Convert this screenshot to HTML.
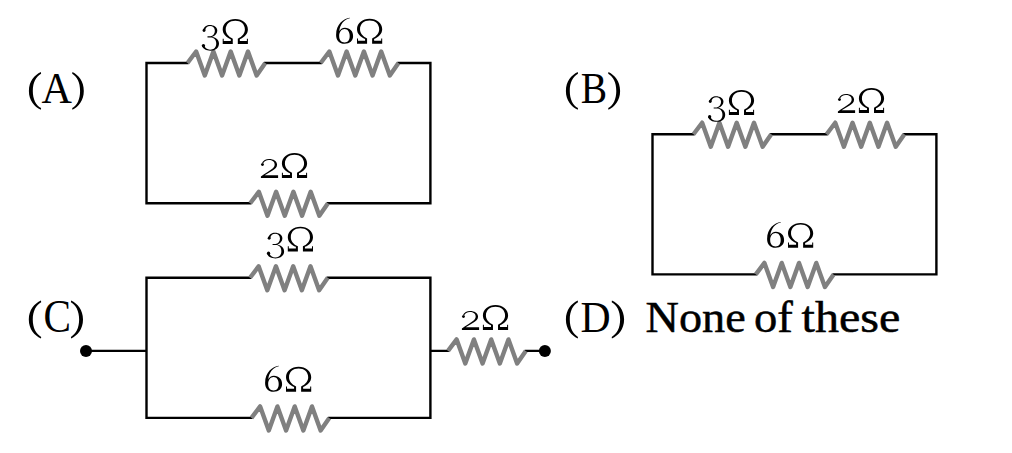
<!DOCTYPE html><html><head><meta charset="utf-8"><style>html,body{margin:0;padding:0;background:#fff;overflow:hidden}svg{display:block}text{font-family:"Liberation Serif",serif;fill:#000}.o{stroke:#000;stroke-width:0.5px}</style></head><body>
<svg width="1012" height="453" viewBox="0 0 1012 453">
<defs><path id="om" d="M0,100 L0,79 L4,79 L4,88 L32,88 L32,81 C14,73 0,60 0,42 C0,18 22,0 50,0 C78,0 100,18 100,42 C100,60 86,73 68,81 L68,88 L96,88 L96,79 L100,79 L100,100 L60,100 L60,79 C78,70 88,58 88,42 C88,20 72,6.6 50,6.6 C28,6.6 12,20 12,42 C12,58 22,70 40,79 L40,100 Z"/><g id="g2"><path fill-rule="evenodd" d="M5,24 C12,7 30,0 48,0 C72,0 94,11 94,30 C94,45 83,53 68,61 L22,86 L100,86 L100,100 L0,100 L0,92 C24,76 52,62 68,50 C77,43 80,36 80,29 C80,14 66,5.5 47,5.5 C30,5.5 18,12 13,24 Z"/><path fill-rule="nonzero" d="M0.5,30 A8.5,7.5 0 1 0 17.5,30 A8.5,7.5 0 1 0 0.5,30 Z"/></g><g id="g3"><path fill-rule="evenodd" d="M7,21 C12,6 30,0 46,0 C70,0 90,8 90,22 C90,34 76,42 60,45.5 C86,49 100,60 100,72 C100,89 80,100 50,100 C26,100 4,93 1,80 L15,79 C18,91 32,96 48,96 C72,96 84,86 84,72 C84,58 72,48 52,48 L33,48 L33,44 L50,44 C66,42 76,33 76,22 C76,11 64,4 48,4 C34,4 22,9 19,21 Z"/><path fill-rule="nonzero" d="M4.5,21 A8.5,5.8 0 1 0 21.5,21 A8.5,5.8 0 1 0 4.5,21 Z"/><path fill-rule="nonzero" d="M0,80 A9.5,6.5 0 1 0 19,80 A9.5,6.5 0 1 0 0,80 Z"/></g><g id="g6"><path fill-rule="evenodd" d="M80,0 C44,4 0,24 0,66 C0,88 20,100 50,100 C80,100 100,88 100,70 C100,52 82,38 52,38 C36,38 24,44 19,52 C22,26 48,6 81,2 Z M50,43 C68,43 80,54 80,70 C80,86 70,95 50,95 C30,95 18,86 18,70 C18,54 32,43 50,43 Z"/></g><g id="glp"><path fill-rule="nonzero" d="M98,0 C45,8 0,25 0,50 C0,75 45,92 98,100 L100,95.5 C58,88 32,72 32,50 C32,28 58,12 100,4.5 Z"/></g><g id="grp"><path fill-rule="nonzero" d="M2,0 C55,8 100,25 100,50 C100,75 55,92 2,100 L0,95.5 C42,88 68,72 68,50 C68,28 42,12 0,4.5 Z"/></g></defs>
<path d="M146.50,63.00 H187.50 M265.26,63.00 H320.70 M398.46,63.00 H430.40 M146.50,203.30 H250.20 M327.96,203.30 H430.40 M652.50,134.20 H693.50 M771.26,134.20 H826.60 M904.36,134.20 H936.40 M652.50,274.40 H755.80 M833.56,274.40 H936.40 M146.50,277.80 H250.00 M327.76,277.80 H430.40 M146.50,417.90 H251.50 M329.26,417.90 H430.40 M146.50,63.00 V203.30 M430.40,63.00 V203.30 M652.50,134.20 V274.40 M936.40,134.20 V274.40 M146.50,277.80 V417.90 M430.40,277.80 V417.90 M86,350.9 H146.5 M430.4,350.9 H448.0 M525.76,350.9 H544.9" fill="none" stroke="#000" stroke-width="2.4" stroke-linecap="square" stroke-linejoin="miter"/>
<path d="M187.50,63.00 L196.14,51.50 L204.78,75.50 L213.42,51.50 L222.06,75.50 L230.70,51.50 L239.34,75.50 L247.98,51.50 L256.62,75.50 L265.26,63.00 M320.70,63.00 L329.34,51.50 L337.98,75.50 L346.62,51.50 L355.26,75.50 L363.90,51.50 L372.54,75.50 L381.18,51.50 L389.82,75.50 L398.46,63.00 M250.20,203.30 L258.84,191.80 L267.48,215.80 L276.12,191.80 L284.76,215.80 L293.40,191.80 L302.04,215.80 L310.68,191.80 L319.32,215.80 L327.96,203.30 M693.50,134.20 L702.14,122.70 L710.78,146.70 L719.42,122.70 L728.06,146.70 L736.70,122.70 L745.34,146.70 L753.98,122.70 L762.62,146.70 L771.26,134.20 M826.60,134.20 L835.24,122.70 L843.88,146.70 L852.52,122.70 L861.16,146.70 L869.80,122.70 L878.44,146.70 L887.08,122.70 L895.72,146.70 L904.36,134.20 M755.80,274.40 L764.44,262.90 L773.08,286.90 L781.72,262.90 L790.36,286.90 L799.00,262.90 L807.64,286.90 L816.28,262.90 L824.92,286.90 L833.56,274.40 M250.00,277.80 L258.64,266.30 L267.28,290.30 L275.92,266.30 L284.56,290.30 L293.20,266.30 L301.84,290.30 L310.48,266.30 L319.12,290.30 L327.76,277.80 M251.50,417.90 L260.14,406.40 L268.78,430.40 L277.42,406.40 L286.06,430.40 L294.70,406.40 L303.34,430.40 L311.98,406.40 L320.62,430.40 L329.26,417.90 M448.00,350.90 L456.64,339.40 L465.28,363.40 L473.92,339.40 L482.56,363.40 L491.20,339.40 L499.84,363.40 L508.48,339.40 L517.12,363.40 L525.76,350.90" fill="none" stroke="#808080" stroke-width="4.4" stroke-linecap="butt" stroke-linejoin="round"/>
<circle cx="86" cy="351.1" r="6"/><circle cx="544.9" cy="351.1" r="6"/>
<g><title>3Ω</title><use href="#g3" transform="translate(201.80 25.10) scale(0.1720 0.2560)"/><use href="#om" transform="translate(222.70 19.00) scale(0.2520 0.2490)"/></g>
<g><title>6Ω</title><use href="#g6" transform="translate(336.10 17.85) scale(0.1700 0.2585)"/><use href="#om" transform="translate(357.00 18.80) scale(0.2520 0.2490)"/></g>
<g><title>2Ω</title><use href="#g2" transform="translate(260.90 158.90) scale(0.1720 0.1900)"/><use href="#om" transform="translate(281.90 153.00) scale(0.2520 0.2490)"/></g>
<g><title>3Ω</title><use href="#g3" transform="translate(708.00 96.20) scale(0.1720 0.2560)"/><use href="#om" transform="translate(728.90 90.10) scale(0.2520 0.2490)"/></g>
<g><title>2Ω</title><use href="#g2" transform="translate(837.90 93.90) scale(0.1720 0.1900)"/><use href="#om" transform="translate(858.90 88.00) scale(0.2520 0.2490)"/></g>
<g><title>6Ω</title><use href="#g6" transform="translate(767.10 221.95) scale(0.1700 0.2585)"/><use href="#om" transform="translate(788.00 222.90) scale(0.2520 0.2490)"/></g>
<g><title>3Ω</title><use href="#g3" transform="translate(266.90 232.80) scale(0.1720 0.2560)"/><use href="#om" transform="translate(287.80 226.70) scale(0.2520 0.2490)"/></g>
<g><title>6Ω</title><use href="#g6" transform="translate(265.10 365.85) scale(0.1700 0.2585)"/><use href="#om" transform="translate(286.00 366.80) scale(0.2520 0.2490)"/></g>
<g><title>2Ω</title><use href="#g2" transform="translate(461.90 310.90) scale(0.1720 0.1900)"/><use href="#om" transform="translate(482.90 305.00) scale(0.2520 0.2490)"/></g>
<g><title>(A)</title><use href="#glp" transform="translate(28.90 72.10) scale(0.1220 0.3770)"/><text font-size="44.275" transform="translate(41.579 102.8) scale(0.9515 1)">A</text><use href="#grp" transform="translate(72.20 72.10) scale(0.1160 0.3770)"/></g>
<g><title>(B)</title><use href="#glp" transform="translate(565.90 72.10) scale(0.1210 0.3770)"/><text font-size="43.969" transform="translate(580.715 102.8) scale(0.8982 1)">B</text><use href="#grp" transform="translate(608.20 72.10) scale(0.1190 0.3770)"/></g>
<g><title>(C)</title><use href="#glp" transform="translate(28.80 300.60) scale(0.1240 0.3800)"/><text font-size="46.418" transform="translate(43.451 332.236) scale(0.8882 1)">C</text><use href="#grp" transform="translate(70.90 300.60) scale(0.1210 0.3800)"/></g>
<g><title>(D)</title><use href="#glp" transform="translate(565.90 300.60) scale(0.1210 0.3800)"/><text font-size="43.969" transform="translate(580.549 331.7) scale(0.9482 1)">D</text><use href="#grp" transform="translate(611.70 300.60) scale(0.1240 0.3800)"/></g>
<g><title>None of these</title><text class="o" font-size="45.152" transform="translate(645.513 331.948) scale(1.0241 1)">None</text><text class="o" font-size="44.648" transform="translate(754.033 331.954) scale(1.0452 1)">of</text><text class="o" font-size="44.965" transform="translate(801.519 331.95) scale(1.0699 1)">these</text></g>
</svg></body></html>
